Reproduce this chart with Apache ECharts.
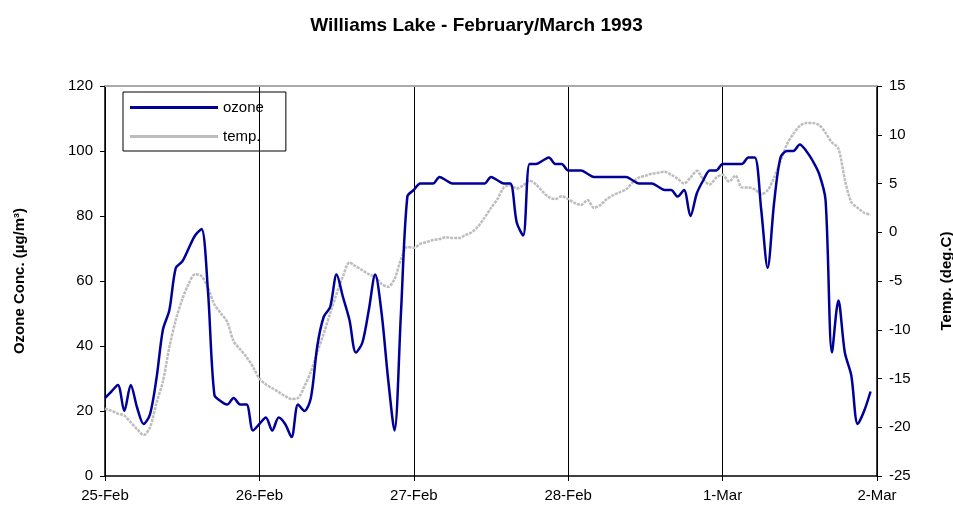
<!DOCTYPE html>
<html>
<head>
<meta charset="utf-8">
<script src="https://cdn.jsdelivr.net/npm/echarts@6/dist/echarts.min.js"></script>
<style>
  html, body { margin: 0; padding: 0; background: #fff; }
  #chart { width: 953px; height: 512px; }
</style>
</head>
<body>
<div id="chart"></div>
<script>
// day labels, one every 24 hours
const dayLabels = ['25-Feb', '26-Feb', '27-Feb', '28-Feb', '1-Mar', '2-Mar']

// hourly readings starting 25-Feb 00:00
const ozone = [
  24, 26, 28, 20, 28, 21, 16, 19, 30, 45, 51, 64, 66, 70, 74, 76, 57, 25, 23, 22, 24, 22, 22, 14,
  16, 18, 14, 18, 16, 12, 22, 20, 24, 40, 49, 52, 62, 55, 48, 38, 41, 51, 62, 50, 30, 14, 50, 86,
  88, 90, 90, 90, 92, 91, 90, 90, 90, 90, 90, 90, 92, 91, 90, 90, 78, 74, 96, 96, 97, 98, 96, 96,
  94, 94, 94, 93, 92, 92, 92, 92, 92, 92, 91, 90, 90, 90, 89, 88, 88, 86, 88, 80, 87, 91, 94, 94,
  96, 96, 96, 96, 98, 98, 82, 64, 84, 98, 100, 100, 102, 100, 97, 93, 85, 38, 54, 38, 31, 16, 20, 26
]

const temp = [
  -18.1, -18.3, -18.6, -18.8, -19.5, -20.2, -20.8, -20.0, -17.5, -15.3, -11.8, -9.0,
  -6.9, -5.3, -4.3, -4.5, -5.7, -7.4, -8.3, -9.2, -11.2, -12.0, -12.8, -13.8,
  -15.0, -15.6, -16.0, -16.4, -16.8, -17.1, -17.0, -15.8, -14.3, -12.3, -10.4, -8.3,
  -6.3, -4.5, -3.1, -3.5, -3.9, -4.3, -4.6, -5.3, -5.6, -4.8, -2.8, -1.5,
  -1.6, -1.2, -1.0, -0.8, -0.7, -0.5, -0.6, -0.6, -0.3, 0.0, 0.6, 1.5,
  2.5, 3.4, 4.6, 4.8, 4.5, 4.8, 5.3, 4.9, 4.2, 3.6, 3.4, 3.7,
  3.4, 3.0, 2.8, 3.3, 2.5, 2.8, 3.4, 3.8, 4.1, 4.4, 5.1, 5.6,
  5.8, 6.0, 6.1, 6.2, 5.9, 5.5, 5.0, 5.6, 6.3, 5.4, 4.9, 5.6,
  5.9, 5.2, 5.8, 4.6, 4.6, 4.4, 3.9, 4.3, 5.6, 7.3, 9.0, 10.1,
  10.9, 11.2, 11.2, 11.0, 10.2, 9.2, 8.6, 5.4, 3.1, 2.5, 2.0, 1.8
]

const font = 'Liberation Sans, Arial, sans-serif'
const chart = echarts.init(document.getElementById('chart'), null, { renderer: 'canvas' })

const option = {
  backgroundColor: '#fff',
  animation: false,
  textStyle: { fontFamily: font, color: '#000' },
  title: {
    text: 'Williams Lake - February/March 1993',
    left: 'center',
    top: 11,
    textStyle: { fontFamily: font, fontSize: 19, fontWeight: 'bold', color: '#000' }
  },
  legend: {
    orient: 'vertical',
    left: 123,
    top: 92,
    padding: [8, 22, 7, 7],
    itemGap: 14,
    itemWidth: 88,
    itemHeight: 3,
    icon: 'rect',
    borderColor: '#000',
    borderWidth: 1,
    textStyle: { fontFamily: font, fontSize: 15, color: '#000' },
    data: ['ozone', 'temp.']
  },
  grid: { left: 105, right: 76, top: 86, bottom: 36, outerBoundsMode: 'none' },
  xAxis: [
    {
      type: 'value',
      min: 0,
      max: 120,
      interval: 24,
      axisLine: { onZero: false, lineStyle: { color: '#000', width: 1.5 } },
      axisTick: { length: 5, lineStyle: { color: '#000' } },
      axisLabel: {
        margin: 12,
        fontSize: 15,
        color: '#000',
        formatter: (v) => dayLabels[Math.round(v / 24)]
      },
      splitLine: { show: true, lineStyle: { color: '#000', width: 1 } }
    },
    {
      type: 'value',
      position: 'top',
      min: 0,
      max: 120,
      axisLine: { show: true, onZero: false, lineStyle: { color: '#aaa', width: 2 } },
      axisTick: { show: false },
      axisLabel: { show: false },
      splitLine: { show: false }
    }
  ],
  yAxis: [
    {
      type: 'value',
      min: 0,
      max: 120,
      interval: 20,
      name: 'Ozone Conc. (µg/m³)',
      nameLocation: 'middle',
      nameGap: 78,
      nameRotate: 90,
      nameTextStyle: { fontFamily: font, fontSize: 15, fontWeight: 'bold', color: '#000' },
      axisLine: { show: true, onZero: false, lineStyle: { color: '#000', width: 1.5 } },
      axisTick: { show: true, length: 5, lineStyle: { color: '#000' } },
      axisLabel: { margin: 12, fontSize: 15, color: '#000' },
      splitLine: { show: false }
    },
    {
      type: 'value',
      min: -25,
      max: 15,
      interval: 5,
      name: 'Temp. (deg.C)',
      nameLocation: 'middle',
      nameGap: 62,
      nameRotate: 90,
      nameTextStyle: { fontFamily: font, fontSize: 15, fontWeight: 'bold', color: '#000' },
      axisLine: { show: true, onZero: false, lineStyle: { color: '#000', width: 1.5 } },
      axisTick: { show: true, length: 5, lineStyle: { color: '#000' } },
      axisLabel: { margin: 12, fontSize: 15, color: '#000' },
      splitLine: { show: false }
    }
  ],
  series: [
    {
      name: 'ozone',
      type: 'line',
      yAxisIndex: 0,
      smooth: 0.3,
      symbol: 'none',
      z: 3,
      lineStyle: { color: '#000099', width: 2.5 },
      itemStyle: { color: '#000099' },
      data: ozone.map((v, i) => [i, v])
    },
    {
      name: 'temp.',
      type: 'line',
      yAxisIndex: 1,
      smooth: 0.3,
      symbol: 'none',
      z: 2,
      lineStyle: { color: '#bdbdbd', width: 2.5, type: [3, 1] },
      itemStyle: { color: '#bdbdbd' },
      data: temp.map((v, i) => [i, v])
    }
  ]
}

chart.setOption(option)
</script>
</body>
</html>
